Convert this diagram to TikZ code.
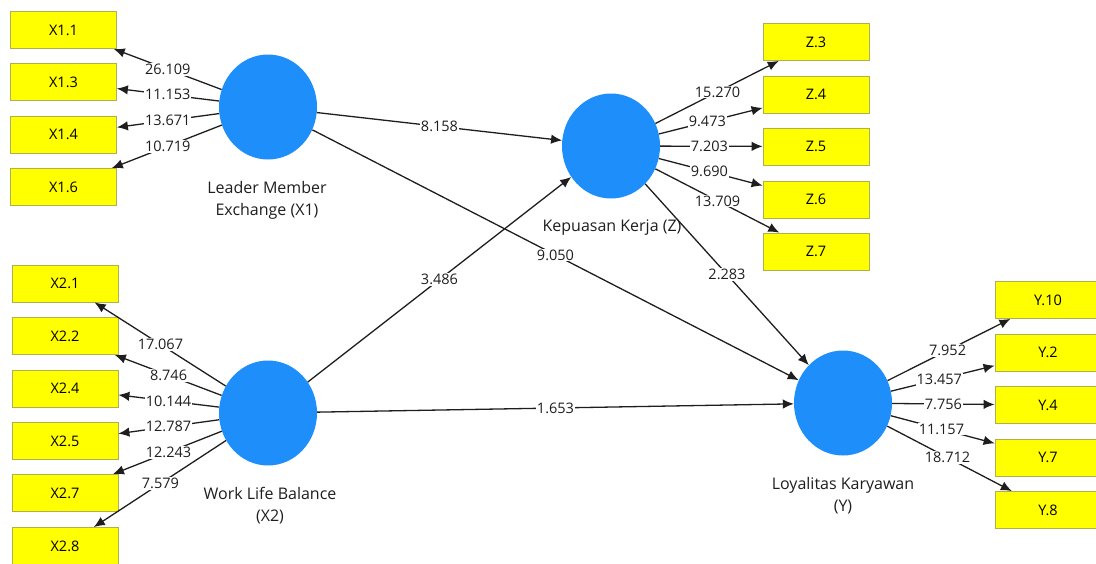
\documentclass[tikz,border=0pt]{standalone}
\usepackage{fontspec}
\setmainfont{Open Sans}
\usetikzlibrary{arrows.meta,shapes.geometric}
\definecolor{latentblue}{RGB}{30,142,250}
\definecolor{itemyellow}{RGB}{255,255,0}
\definecolor{itemborder}{RGB}{175,175,80}
\definecolor{linkgray}{RGB}{30,30,30}
\tikzset{
  latent/.style={ellipse,fill=latentblue,draw=none,minimum width=98pt,minimum height=105pt,inner sep=0pt},
  item/.style={rectangle,fill=itemyellow,draw=itemborder,line width=0.8pt,minimum width=106pt,minimum height=37pt,inner sep=0pt,font=\fontsize{14.5}{16}\selectfont},
  arr/.style={draw=linkgray,line width=1.3pt,-{Latex[length=11pt,width=9.5pt]}},
  lbl/.style={fill=white,inner sep=1pt,text=linkgray,font=\fontsize{14.5}{16}\selectfont},
  caption/.style={align=center,text=linkgray,font=\fontsize{16}{22}\selectfont}
}
\newcommand{\pathlink}[4]{%
  \draw[arr] (#1) -- (#2);
  \path (#1.center) -- (#2.center) node[lbl,pos=#3] {#4};}
\begin{document}
\begin{tikzpicture}[x=1pt,y=-1pt]
\useasboundingbox (0,0) rectangle (1096,563);
\begin{scope}
\clip (0,0) rectangle (1096,563);
% latent variables
\node[latent] (X1) at (268,107) {};
\node[latent] (X2) at (268,413) {};
\node[latent] (Z)  at (611,146) {};
\node[latent] (Y)  at (843,403) {};
\node[caption] (capX1) at (267,200) {Leader Member\\Exchange (X1)};
\node[caption] (capX2) at (270,506) {Work Life Balance\\(X2)};
\node[caption] (capZ)  at (612,228) {Kepuasan Kerja (Z)};
\node[caption] (capY)  at (843,496) {Loyalitas Karyawan\\(Y)};
% indicators of X1
\node[item] (x11) at (63.5,30)  {X1.1};
\node[item] (x13) at (63.5,82)  {X1.3};
\node[item] (x14) at (63.5,134.5) {X1.4};
\node[item] (x16) at (63.5,187) {X1.6};
% indicators of X2
\node[item] (x21) at (65,283.5) {X2.1};
\node[item] (x22) at (65,336)   {X2.2};
\node[item] (x24) at (65,388.5) {X2.4};
\node[item] (x25) at (65,441)   {X2.5};
\node[item] (x27) at (65,493)   {X2.7};
\node[item] (x28) at (65,546)   {X2.8};
% indicators of Z
\node[item] (z3) at (816,42)    {Z.3};
\node[item] (z4) at (816,94.5)  {Z.4};
\node[item] (z5) at (816,146.5) {Z.5};
\node[item] (z6) at (816,199.5) {Z.6};
\node[item] (z7) at (816,251.5) {Z.7};
% indicators of Y
\node[item] (y10) at (1048,300)   {Y.10};
\node[item] (y2)  at (1048,352.5) {Y.2};
\node[item] (y4)  at (1048,405)   {Y.4};
\node[item] (y7)  at (1048,457.5) {Y.7};
\node[item] (y8)  at (1048,510)   {Y.8};
% outer loadings
\pathlink{X1}{x11}{0.49}{26.109}
\pathlink{X1}{x13}{0.49}{11.153}
\pathlink{X1}{x14}{0.49}{13.671}
\pathlink{X1}{x16}{0.49}{10.719}
\pathlink{X2}{x21}{0.53}{17.067}
\pathlink{X2}{x22}{0.49}{8.746}
\pathlink{X2}{x24}{0.49}{10.144}
\pathlink{X2}{x25}{0.49}{12.787}
\pathlink{X2}{x27}{0.49}{12.243}
\pathlink{X2}{x28}{0.53}{7.579}
\pathlink{Z}{z3}{0.52}{15.270}
\pathlink{Z}{z4}{0.47}{9.473}
\pathlink{Z}{z5}{0.48}{7.203}
\pathlink{Z}{z6}{0.48}{9.690}
\pathlink{Z}{z7}{0.52}{13.709}
\pathlink{Y}{y10}{0.51}{7.952}
\pathlink{Y}{y2}{0.47}{13.457}
\pathlink{Y}{y4}{0.49}{7.756}
\pathlink{Y}{y7}{0.48}{11.157}
\pathlink{Y}{y8}{0.51}{18.712}
% structural paths
\pathlink{X1}{Z}{0.5}{8.158}
\pathlink{X1}{Y}{0.5}{9.050}
\pathlink{X2}{Z}{0.5}{3.486}
\pathlink{X2}{Y}{0.5}{1.653}
\pathlink{Z}{Y}{0.5}{2.283}
\end{scope}
\end{tikzpicture}
\end{document}
